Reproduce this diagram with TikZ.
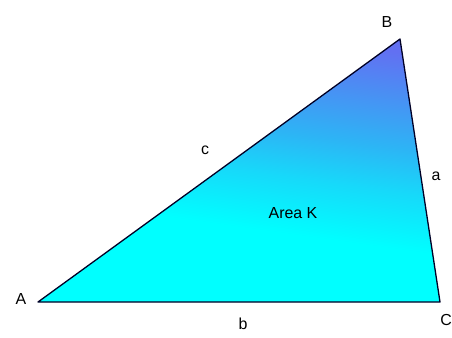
\documentclass[tikz,border=0pt]{standalone}
\usepackage{fontspec}
\setmainfont{Liberation Sans}
\usetikzlibrary{positioning,calc}

\definecolor{kmid}{RGB}{45,180,245}
\definecolor{ktop}{RGB}{98,112,242}
\pgfdeclareverticalshading{areashade}{100bp}{color(0bp)=(cyan); color(40bp)=(cyan);
  color(50bp)=(cyan!50!kmid); color(58bp)=(kmid); color(75bp)=(ktop); color(100bp)=(ktop)}

\begin{document}
\begin{tikzpicture}[x=1bp, y=-1bp, line cap=round, line join=round,
  lbl/.style={font=\fontsize{16}{16}\selectfont, text=black, inner sep=0pt}]

\useasboundingbox (0,0) rectangle (452,337);

\coordinate (A) at (38,302);
\coordinate (B) at (400,39);
\coordinate (C) at (440,302);

% triangle with shading
\shade[shading=areashade, shading angle=-8] (A) -- (B) -- (C) -- cycle;
\draw[line width=1.3bp, black!85!blue] (A) -- (B) -- (C) -- cycle;

% vertex labels
\node[lbl] (la) at (21,299) {A};
\node[lbl] (lb) at (387,22) {B};
\node[lbl] (lc) at (446,320) {C};

% side labels
\node[lbl] (sc) at (205,150) {c};
\node[lbl] (sa) at (436,176) {a};
\node[lbl] (sb) at (243,324) {b};

\node[lbl] (area) at (293,213) {Area K};

\end{tikzpicture}
\end{document}
